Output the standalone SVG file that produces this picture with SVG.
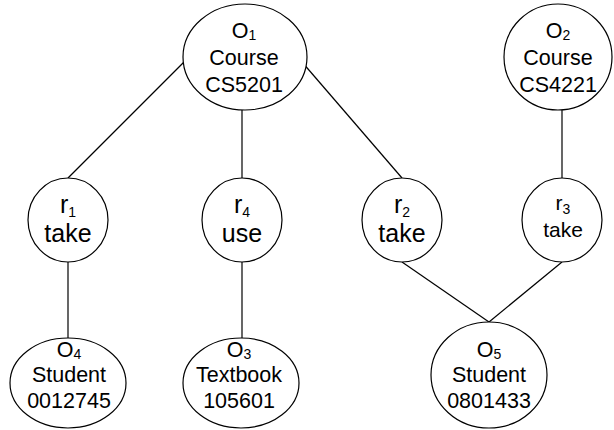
<svg xmlns="http://www.w3.org/2000/svg" width="614" height="430" viewBox="0 0 614 430">
  <style>
    .node { fill: #ffffff; stroke: #000000; stroke-width: 1.2; }
    .edge { stroke: #000000; stroke-width: 1.2; fill: none; }
    .lbl { fill: #000000; text-anchor: middle; }
    .obj { font-size: 21.5px; }
    .rel { font-size: 25px; }
    .rel-s { font-size: 21px; }
    .sub { font-size: 14px; }
  </style>
  <rect width="614" height="430" fill="#ffffff"/>

  <!-- edges between object and relationship nodes -->
  <g id="connectors">
    <line class="edge" x1="184" y1="62" x2="68" y2="178"/>
    <line class="edge" x1="242" y1="110" x2="242" y2="178"/>
    <line class="edge" x1="302" y1="62" x2="402" y2="178"/>
    <line class="edge" x1="562" y1="110" x2="562" y2="178"/>
    <line class="edge" x1="68" y1="262" x2="68" y2="338"/>
    <line class="edge" x1="242" y1="262" x2="242" y2="338"/>
    <line class="edge" x1="402" y1="262" x2="489" y2="322"/>
    <line class="edge" x1="562" y1="262" x2="489" y2="322"/>
  </g>

  <g class="lbl" font-family="Liberation Sans, Arial, sans-serif">
  <g id="o1">
    <ellipse class="node" cx="245" cy="57" rx="62" ry="53"/>
    <text class="obj" x="244" y="38">O<tspan class="sub" dy="2">1</tspan></text>
    <text class="obj" x="244" y="65">Course</text>
    <text class="obj" x="244" y="92">CS5201</text>
  </g>

  <g id="o2">
    <ellipse class="node" cx="558" cy="57" rx="54" ry="53"/>
    <text class="obj" x="558" y="38">O<tspan class="sub" dy="2">2</tspan></text>
    <text class="obj" x="558" y="65">Course</text>
    <text class="obj" x="558" y="92">CS4221</text>
  </g>

  <g id="r1">
    <ellipse class="node" cx="68" cy="220" rx="40" ry="42"/>
    <text class="rel" x="68" y="213">r<tspan class="sub" dy="4">1</tspan></text>
    <text class="rel" x="68" y="242">take</text>
  </g>

  <g id="r4">
    <ellipse class="node" cx="242" cy="220" rx="40" ry="42"/>
    <text class="rel" x="242" y="213">r<tspan class="sub" dy="4">4</tspan></text>
    <text class="rel" x="242" y="242">use</text>
  </g>

  <g id="r2">
    <ellipse class="node" cx="402" cy="220" rx="40" ry="42"/>
    <text class="rel" x="402" y="213">r<tspan class="sub" dy="4">2</tspan></text>
    <text class="rel" x="402" y="242">take</text>
  </g>

  <g id="r3">
    <ellipse class="node" cx="562" cy="220" rx="40" ry="42"/>
    <text class="rel-s" x="563" y="210">r<tspan class="sub" dy="4">3</tspan></text>
    <text class="rel-s" x="563" y="237">take</text>
  </g>

  <g id="o4">
    <ellipse class="node" cx="68" cy="383" rx="58" ry="45"/>
    <text class="obj" x="69" y="357">O<tspan class="sub" dy="2">4</tspan></text>
    <text class="obj" x="69" y="382">Student</text>
    <text class="obj" x="69" y="408">0012745</text>
  </g>

  <g id="o3">
    <ellipse class="node" cx="241" cy="383" rx="58" ry="45"/>
    <text class="obj" x="239" y="357">O<tspan class="sub" dy="2">3</tspan></text>
    <text class="obj" x="239" y="382">Textbook</text>
    <text class="obj" x="239" y="408">105601</text>
  </g>

  <g id="o5">
    <ellipse class="node" cx="489" cy="375" rx="58" ry="53"/>
    <text class="obj" x="489" y="357">O<tspan class="sub" dy="2">5</tspan></text>
    <text class="obj" x="489" y="382">Student</text>
    <text class="obj" x="489" y="408">0801433</text>
  </g>
  </g>
</svg>
